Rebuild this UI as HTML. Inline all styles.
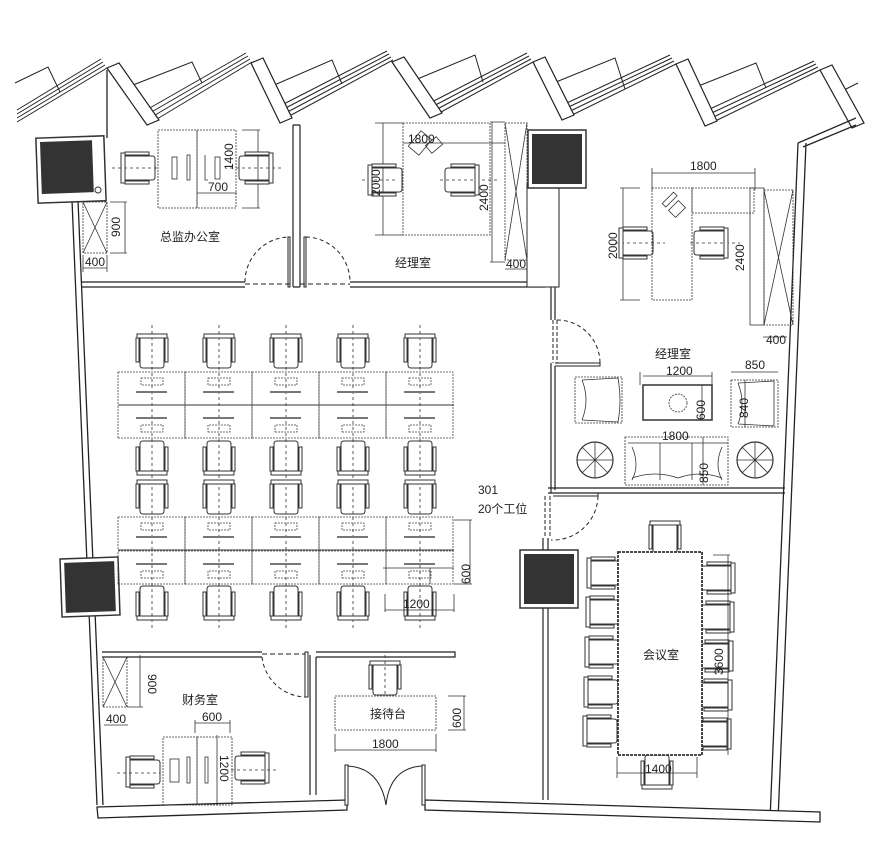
<!DOCTYPE html>
<html><head><meta charset="utf-8"><style>
html,body{margin:0;padding:0;background:#fff;}
svg{display:block;}
text{font-family:"Liberation Sans","Noto Sans CJK SC",sans-serif;fill:#222;}
</style></head><body>
<svg width="886" height="864" viewBox="0 0 886 864" xmlns="http://www.w3.org/2000/svg">
<defs>
<g id="ch" fill="none" stroke="#333" stroke-width="1">
<rect x="-15" y="-17" width="30" height="4" fill="#fff"/>
<rect x="-16" y="-13" width="3" height="24" fill="#fff"/>
<rect x="13" y="-13" width="3" height="24" fill="#fff"/>
<path d="M-12 -13 L-12 14 Q-12 17 -9 17 L9 17 Q12 17 12 14 L12 -13"/>
</g>
<g id="mon">
<rect x="0" y="0" width="58" height="58" fill="#fff" stroke="#333" stroke-width="1.5"/>
<rect x="4" y="4" width="50" height="50" fill="#333"/>
</g>
<g id="ws" fill="none" stroke="#444" stroke-width="0.8">
<rect x="0" y="0" width="67" height="33" stroke-dasharray="2 1"/>
<rect x="23" y="6" width="22" height="7" stroke-dasharray="2 1"/>
<line x1="18" y1="20" x2="49" y2="20" stroke-width="2" stroke="#777"/>
</g>
</defs>

<g fill="none" stroke="#222" stroke-width="1">
<g id="strips">
<path d="M17 122 L107 68 M17 118 L105 65 M17 114 L103 62 M17 110 L101 59"/>
<path d="M147 125 L252 62 M145 121 L250 59 M143 117 L248 56 M141 113 L246 53"/>
<path d="M282 120 L393 60 M280 116 L391 57 M278 112 L389 54 M276 108 L387 51"/>
<path d="M430 118 L533 62 M428 114 L531 59 M426 110 L529 56 M424 106 L527 53"/>
<path d="M562 120 L676 64 M560 116 L674 61 M558 112 L672 58 M556 108 L670 55"/>
<path d="M705 126 L820 70 M703 122 L818 67 M701 118 L816 64 M699 114 L814 61"/>
<path d="M852 128 L858 125 M852 124 L858 121"/>
</g>
<path d="M15 83 L48 67 L60 92"/>
<path d="M133 85 L192 62 L202 83"/>
<path d="M272 86 L332 60 L342 84"/>
<path d="M415 80 L475 55 L483 82"/>
<path d="M556 82 L615 58 L625 89"/>
<path d="M696 87 L756 63 L766 88"/>
<path d="M840 92 L858 83"/>
<g fill="#fff" stroke-width="1.2">
<polygon points="107,68 119,63 159,120 147,125"/>
<polygon points="251,63 263,58 292,118 280,123"/>
<polygon points="392,62 404,57 442,113 430,118"/>
<polygon points="533,62 545,57 574,115 562,120"/>
<polygon points="676,64 688,59 717,121 705,126"/>
<polygon points="820,70 832,65 864,123 852,128"/>
</g>

<path d="M72 200 L97 805 M78 200 L103 805" stroke-width="1.3"/>
<path d="M107 70 L107 138" stroke-width="1.3"/>
<path d="M798 143 L770 820 M806 143 L778 820" stroke-width="1.3"/>
<path d="M798 143 L856 118 M803 147 L856 125" stroke-width="1.3"/>
<polygon points="97,807 347,800 347,810 98,818" fill="#fff" stroke-width="1.3"/>
<polygon points="425,800 820,812 820,822 425,810" fill="#fff" stroke-width="1.3"/>
<rect x="345" y="765" width="3" height="40" fill="#fff"/>
<rect x="422" y="765" width="3" height="40" fill="#fff"/>
<path d="M348 766 Q380 768 386 805 M422 766 Q390 768 386 805"/>

<path d="M82 282 L245 282 M82 287 L245 287 M350 282 L545 282 M350 287 L545 287" stroke-width="1.2"/>
<path d="M245 284 L290 284 M300 284 L350 284" stroke-dasharray="5 3"/>
<path d="M293 125 L293 287 M300 125 L300 287 M293 125 L300 125 M293 287 L300 287" stroke-width="1.2"/>
<rect x="288" y="237" width="2" height="50"/>
<rect x="304" y="237" width="2" height="50"/>
<path d="M245 282 A45 45 0 0 1 288 237 M306 237 A45 45 0 0 1 350 282" stroke-dasharray="4 3"/>
<rect x="527" y="183" width="32" height="104" fill="#fff"/>
<path d="M551 287 L551 320 M555 287 L555 320" stroke-width="1.2"/>
<path d="M551 363 L551 493 M555 366 L555 490" stroke-width="1.2"/>
<path d="M553 320 L553 363 M557 320 L557 363" stroke-dasharray="4 2"/>
<path d="M555 363 L600 363 L600 366 L555 366"/>
<path d="M557 320 A43 43 0 0 1 600 363" stroke-dasharray="4 3"/>
<path d="M548 488 L785 488 M548 493 L785 493" stroke-width="1.2"/>
<path d="M553 496 L598 496 L598 493" />
<path d="M543 538 L543 800 M548 538 L548 800" stroke-width="1.2"/>
<path d="M545 496 L545 538 M550 496 L550 538" stroke-dasharray="4 2"/>
<path d="M598 496 A45 45 0 0 1 551 540" stroke-dasharray="4 3"/>

<path d="M102 652 L262 652 M102 657 L262 657 M316 652 L455 652 L455 657 L316 657" stroke-width="1.2"/>
<path d="M262 654 L305 654" stroke-dasharray="5 3"/>
<rect x="305" y="652" width="3" height="45"/>
<path d="M262 657 A45 45 0 0 0 305 697" stroke-dasharray="4 3"/>
<path d="M310 655 L310 795 M316 657 L316 795" stroke-width="1.2"/>
</g>

<rect x="37" y="137" width="68" height="65" fill="#fff" stroke="#333" stroke-width="1.5" transform="rotate(-2 70 170)"/>
<rect x="41" y="141" width="52" height="52" fill="#333" transform="rotate(-2 70 170)"/>
<circle cx="98" cy="190" r="3" fill="none" stroke="#333"/>
<use href="#mon" transform="translate(528,130)"/>
<use href="#mon" transform="translate(60,559) rotate(-2)"/>
<use href="#mon" transform="translate(520,550)"/>

<g fill="none" stroke="#333" stroke-width="0.8">
<rect x="158" y="130" width="39" height="78" stroke-dasharray="2 1"/>
<rect x="197" y="130" width="39" height="78" stroke-dasharray="2 1"/>
<rect x="172" y="157" width="5" height="22"/><rect x="187" y="155" width="3" height="25"/>
<path d="M205 155 L205 180 L208 180"/><rect x="215" y="157" width="5" height="22"/>
<path d="M112 168 L160 168 M230 168 L283 168" stroke-dasharray="3 3"/>
<path d="M242 130 L260 130 M242 208 L260 208 M258 130 L258 208 M197 193 L237 193"/>
<rect x="83" y="202" width="24" height="51" stroke-dasharray="2 1"/>
<path d="M83 202 L107 253 M107 202 L83 253"/>
<path d="M110 202 L127 202 M110 253 L127 253 M125 202 L125 253 M83 268 L107 268 M83 255 L83 272 M107 255 L107 272"/>

<rect x="403" y="123" width="87" height="112" stroke-dasharray="2 1"/>
<rect x="413" y="133" width="14" height="20" transform="rotate(40 420 143)"/>
<rect x="427" y="140" width="14" height="10" transform="rotate(-40 434 145)"/>
<path d="M375 123 L403 123 M375 235 L403 235 M383 123 L383 235 M403 143 L505 143"/>
<path d="M362 180 L398 180 M440 180 L500 180" stroke-dasharray="3 3"/>
<rect x="505" y="123" width="22" height="137" stroke-dasharray="2 1"/>
<path d="M505 123 L527 260 M527 123 L505 260"/>
<path d="M492 122 L492 262 M490 122 L505 122 M490 262 L505 262 M505 269 L527 269"/>

<path d="M652 173 L755 173 M652 168 L652 190 M755 168 L755 190"/>
<rect x="652" y="188" width="40" height="112" stroke-dasharray="2 1"/>
<rect x="692" y="188" width="62" height="25" stroke-dasharray="2 1"/>
<rect x="662" y="197" width="16" height="5" transform="rotate(-45 670 200)"/>
<rect x="670" y="204" width="14" height="10" transform="rotate(-45 677 209)"/>
<path d="M623 188 L623 300 M620 188 L640 188 M620 300 L640 300"/>
<path d="M615 243 L665 243 M690 243 L740 243" stroke-dasharray="3 3"/>
<rect x="750" y="188" width="14" height="137" />
<rect x="764" y="190" width="29" height="135" stroke-dasharray="2 1"/>
<path d="M764 190 L793 325 M793 190 L764 325 M763 337 L787 337"/>
<rect x="643" y="385" width="69" height="35" stroke-width="1.5"/>
<path d="M643 376 L712 376 M640 372 L640 385 M712 372 L712 385 M702 385 L702 420"/>
<circle cx="678" cy="403" r="9" stroke-dasharray="2 1"/>
<rect x="575" y="377" width="47" height="46" stroke-dasharray="2 1"/>
<path d="M582 380 Q590 400 582 420 M582 380 L618 378 M582 420 L618 422 M618 378 Q622 400 618 422"/>
<rect x="731" y="380" width="47" height="47" stroke-dasharray="2 1"/>
<path d="M738 383 Q746 403 738 424 M738 383 L774 381 M738 424 L774 426 M774 381 L774 426 M731 372 L778 372 M745 380 L745 427"/>
<rect x="625" y="437" width="103" height="48" stroke-dasharray="2 1"/>
<path d="M628 443 L728 443 M632 447 Q640 465 632 480 M722 447 Q714 465 722 480 M632 478 Q655 470 678 478 Q700 470 722 478 M660 443 L660 480 M692 443 L692 480 M703 437 L703 485"/>
<circle cx="595" cy="460" r="18" stroke-width="1.2"/>
<path d="M595 442 L595 478 M577 460 L613 460 M582 447 L608 473 M608 447 L582 473"/>
<circle cx="755" cy="460" r="18" stroke-width="1.2"/>
<path d="M755 442 L755 478 M737 460 L773 460 M742 447 L768 473 M768 447 L742 473"/>

<g stroke-dasharray="3 3">
<path d="M152 325 L152 630 M219 325 L219 630 M286 325 L286 630 M353 325 L353 630 M420 325 L420 630"/>
</g>
</g>

<g>
<use href="#ws" x="118" y="372"/><use href="#ws" x="185" y="372"/><use href="#ws" x="252" y="372"/><use href="#ws" x="319" y="372"/><use href="#ws" x="386" y="372"/>
<use href="#ws" transform="translate(118,438) scale(1,-1)"/><use href="#ws" transform="translate(185,438) scale(1,-1)"/><use href="#ws" transform="translate(252,438) scale(1,-1)"/><use href="#ws" transform="translate(319,438) scale(1,-1)"/><use href="#ws" transform="translate(386,438) scale(1,-1)"/>
<use href="#ws" x="118" y="517"/><use href="#ws" x="185" y="517"/><use href="#ws" x="252" y="517"/><use href="#ws" x="319" y="517"/><use href="#ws" x="386" y="517"/>
<use href="#ws" transform="translate(118,584) scale(1,-1)"/><use href="#ws" transform="translate(185,584) scale(1,-1)"/><use href="#ws" transform="translate(252,584) scale(1,-1)"/><use href="#ws" transform="translate(319,584) scale(1,-1)"/><use href="#ws" transform="translate(386,584) scale(1,-1)"/>
<path d="M118 405 L454 405 M118 550 L454 550" stroke="#333" stroke-width="1"/>
</g>
<g>
<use href="#ch" x="152" y="351"/><use href="#ch" x="219" y="351"/><use href="#ch" x="286" y="351"/><use href="#ch" x="353" y="351"/><use href="#ch" x="420" y="351"/>
<use href="#ch" transform="translate(152,458) rotate(180)"/><use href="#ch" transform="translate(219,458) rotate(180)"/><use href="#ch" transform="translate(286,458) rotate(180)"/><use href="#ch" transform="translate(353,458) rotate(180)"/><use href="#ch" transform="translate(420,458) rotate(180)"/>
<use href="#ch" x="152" y="497"/><use href="#ch" x="219" y="497"/><use href="#ch" x="286" y="497"/><use href="#ch" x="353" y="497"/><use href="#ch" x="420" y="497"/>
<use href="#ch" transform="translate(152,603) rotate(180)"/><use href="#ch" transform="translate(219,603) rotate(180)"/><use href="#ch" transform="translate(286,603) rotate(180)"/><use href="#ch" transform="translate(353,603) rotate(180)"/><use href="#ch" transform="translate(420,603) rotate(180)"/>
<use href="#ch" transform="translate(138,168) rotate(-90)"/>
<use href="#ch" transform="translate(256,168) rotate(90)"/>
<use href="#ch" transform="translate(385,180) rotate(-90)"/>
<use href="#ch" transform="translate(462,180) rotate(90)"/>
<use href="#ch" transform="translate(636,243) rotate(-90)"/>
<use href="#ch" transform="translate(711,243) rotate(90)"/>
<use href="#ch" transform="translate(143,772) rotate(-90)"/>
<use href="#ch" transform="translate(252,768) rotate(90)"/>
<use href="#ch" x="385" y="678"/>
<use href="#ch" x="665" y="538"/>
<use href="#ch" transform="translate(657,772) rotate(180)"/>
<use href="#ch" transform="translate(604,573) rotate(-90)"/>
<use href="#ch" transform="translate(603,612) rotate(-90)"/>
<use href="#ch" transform="translate(602,652) rotate(-90)"/>
<use href="#ch" transform="translate(601,692) rotate(-90)"/>
<use href="#ch" transform="translate(600,731) rotate(-90)"/>
<use href="#ch" transform="translate(718,578) rotate(90)"/>
<use href="#ch" transform="translate(717,617) rotate(90)"/>
<use href="#ch" transform="translate(716,656) rotate(90)"/>
<use href="#ch" transform="translate(715,695) rotate(90)"/>
<use href="#ch" transform="translate(714,734) rotate(90)"/>
</g>

<g fill="none" stroke="#333" stroke-width="0.8">
<path d="M383 568 L454 568 M430 568 L430 584 M454 584 L472 584 M454 520 L472 520 M470 520 L470 584"/>
<path d="M385 594 L385 612 M454 594 L454 612 M385 610 L454 610"/>
<rect x="618" y="552" width="84" height="203" fill="#fff" stroke-width="1.8" stroke-dasharray="3 1"/>
<path d="M617 757 L617 778 M697 757 L697 778 M617 773 L697 773 M713 555 L730 555 M728 555 L728 755"/>
<rect x="163" y="737" width="34" height="68" stroke-dasharray="2 1"/>
<rect x="197" y="737" width="35" height="68" stroke-dasharray="2 1"/>
<rect x="170" y="759" width="9" height="23"/><rect x="187" y="757" width="3" height="26"/><rect x="205" y="757" width="3" height="26"/>
<path d="M117 773 L160 773 M225 770 L278 770" stroke-dasharray="3 3"/>
<path d="M195 723 L230 723 M195 720 L195 733 M230 720 L230 733 M217 735 L217 805"/>
<rect x="103" y="657" width="24" height="50" stroke-dasharray="2 1"/>
<path d="M103 657 L127 707 M127 657 L103 707 M140 655 L140 707 M127 707 L143 707 M104 725 L128 725"/>
<rect x="335" y="696" width="101" height="34" stroke-dasharray="2 1"/>
<path d="M385 655 L385 695" stroke-dasharray="3 3"/>
<path d="M335 734 L335 752 M436 734 L436 752 M335 750 L436 750 M448 696 L466 696 M448 730 L466 730 M464 696 L464 730"/>
</g>

<g font-size="12">
<text x="160" y="241">总监办公室</text>
<text x="395" y="267">经理室</text>
<text x="655" y="358">经理室</text>
<text x="478" y="494">301</text>
<text x="478" y="513">20个工位</text>
<text x="643" y="659">会议室</text>
<text x="182" y="704">财务室</text>
<text x="370" y="718">接待台</text>
</g>
<g font-size="12">
<text x="208" y="191">700</text>
<text x="253" y="150" transform="rotate(-90 253 170)">1400</text>
<text x="106" y="231" transform="rotate(-90 116 227)">900</text>
<text x="85" y="266">400</text>
<text x="408" y="143">1800</text>
<text x="364" y="180" transform="rotate(-90 380 180)">2000</text>
<text x="472" y="195" transform="rotate(-90 488 195)">2400</text>
<text x="506" y="268">400</text>
<text x="690" y="170">1800</text>
<text x="601" y="243" transform="rotate(-90 617 243)">2000</text>
<text x="728" y="255" transform="rotate(-90 744 255)">2400</text>
<text x="766" y="344">400</text>
<text x="666" y="375">1200</text>
<text x="690" y="405" transform="rotate(-90 705 405)">600</text>
<text x="745" y="369">850</text>
<text x="733" y="403" transform="rotate(-90 748 403)">840</text>
<text x="662" y="440">1800</text>
<text x="693" y="468" transform="rotate(-90 708 468)">850</text>
<text x="403" y="608">1200</text>
<text x="454" y="568" transform="rotate(-90 470 568)">600</text>
<text x="645" y="773">1400</text>
<text x="708" y="660" transform="rotate(-90 723 660)">3600</text>
<text x="202" y="721">600</text>
<text x="106" y="723">400</text>
<text x="134" y="672" transform="rotate(90 140 680)">900</text>
<text x="205" y="770" transform="rotate(90 220 770)">1200</text>
<text x="372" y="748">1800</text>
<text x="446" y="713" transform="rotate(-90 461 713)">600</text>
</g>
</svg>
</body></html>
